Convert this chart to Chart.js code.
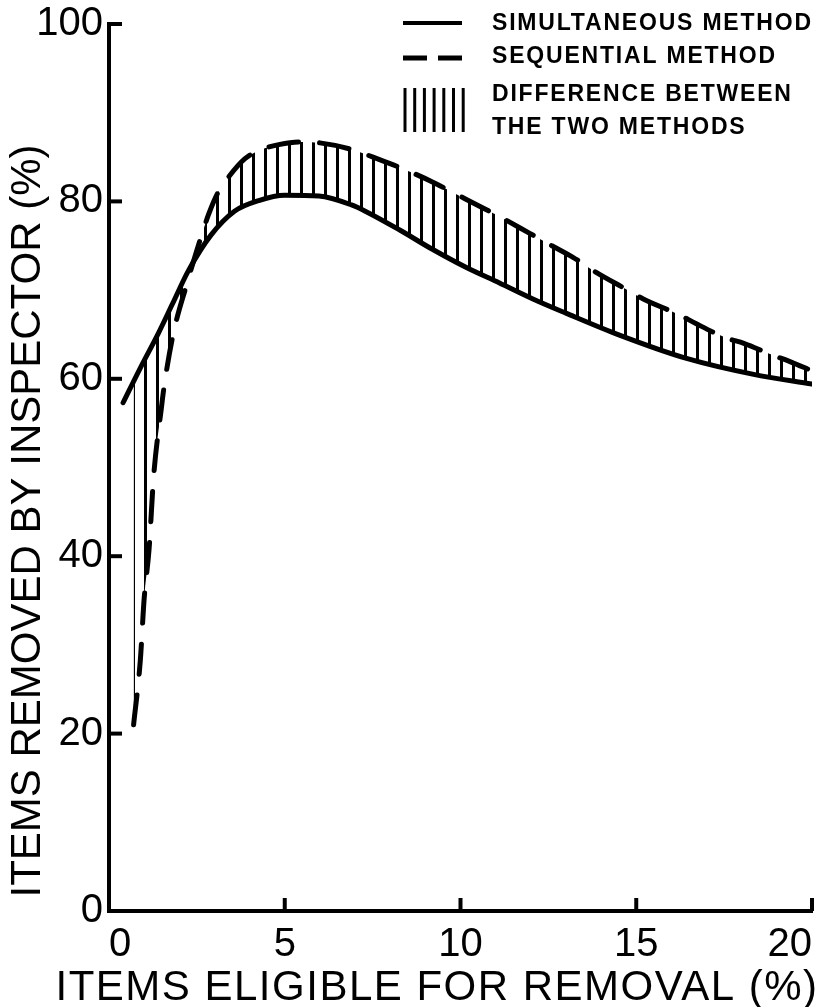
<!DOCTYPE html>
<html>
<head>
<meta charset="utf-8">
<script src="https://cdn.jsdelivr.net/npm/chart.js@4/dist/chart.umd.min.js"></script>
<style>
  html, body { margin: 0; padding: 0; background: #fff; }
  canvas { display: block; }
</style>
</head>
<body>
<canvas id="inspectChart" width="826" height="1007"></canvas>
<script>
"use strict";

// simultaneous method (solid curve)
let simX = [0.4, 0.9, 1.4, 1.8, 2.26, 2.9, 3.57, 4.26, 5.0, 5.97, 6.9, 7.29, 8.26, 9.2, 10.14, 11.11, 12.06, 13.0, 14.54, 16.43, 18.34, 20];
let simY = [57.3, 61.3, 65.1, 68.4, 72.2, 76.2, 78.9, 80.1, 80.7, 80.6, 79.6, 78.9, 76.8, 74.6, 72.6, 70.8, 69.0, 67.4, 64.9, 62.3, 60.5, 59.4];

// sequential method (dashed curve)
let seqX = [0.7, 0.89, 1.0, 1.14, 1.27, 1.49, 1.57, 1.83, 2.23, 2.5, 2.83, 3.1, 3.43, 3.86, 4.3, 4.83, 5.4, 6.0, 6.86, 7.77, 8.29, 9.2, 9.69, 10.57, 11.06, 11.97, 12.6, 13.2, 13.86, 14.71, 15.2, 16.23, 16.71, 17.57, 18.06, 18.86, 19.34, 20];
let seqY = [21.0, 28.2, 35.2, 40.8, 49.0, 56.7, 59.2, 65.1, 70.9, 74.5, 78.5, 81.0, 82.9, 84.8, 85.8, 86.4, 86.7, 86.6, 85.9, 84.6, 83.8, 82.2, 81.2, 79.4, 78.4, 76.4, 75.0, 73.7, 72.0, 70.1, 69.0, 67.2, 66.2, 64.6, 64.0, 62.7, 62.0, 60.9];

let xTicks = [0, 5, 10, 15, 20];
let yTicks = [0, 20, 40, 60, 80, 100];
let seriesNames = ['SIMULTANEOUS METHOD', 'SEQUENTIAL METHOD'];
let diffLabel = ['DIFFERENCE BETWEEN', 'THE TWO METHODS'];
let xTitle = 'ITEMS ELIGIBLE FOR REMOVAL (%)';
let yTitle = 'ITEMS REMOVED BY INSPECTOR (%)';

let canvas = document.getElementById('inspectChart');
let ctx = canvas.getContext('2d');

function toPoints(xs, ys) {
    let pts = [];
    for (let i = 0; i < xs.length; i++) {
        pts.push({ x: xs[i], y: ys[i] });
    }
    return pts;
}

// vertical line hatching for the gap between the curves
function makeHatch() {
    let tile = document.createElement('canvas');
    tile.width = 12;
    tile.height = 4;
    let tctx = tile.getContext('2d');
    tctx.fillStyle = '#000';
    tctx.fillRect(0, 0, 3, 4);
    return ctx.createPattern(tile, 'repeat');
}

const fontFamily = "'Liberation Sans', Arial, sans-serif";
const titleFont = "42px " + fontFamily;
const legendFont = "bold 23px " + fontFamily;

// inward tick marks, axis titles and the key in the top right
const decorations = {
    id: 'decorations',
    afterDraw(chart) {
        let c = chart.ctx;
        let xs = chart.scales.x;
        let ys = chart.scales.y;
        let area = chart.chartArea;
        c.save();
        c.strokeStyle = '#000';
        c.fillStyle = '#000';
        c.lineWidth = 4;
        c.lineCap = 'butt';
        for (let v of yTicks) {
            if (v === 0) continue;
            let py = ys.getPixelForValue(v);
            c.beginPath();
            c.moveTo(area.left, py);
            c.lineTo(area.left + 13, py);
            c.stroke();
        }
        for (let v of xTicks) {
            if (v === 0) continue;
            let px = xs.getPixelForValue(v);
            c.beginPath();
            c.moveTo(px, area.bottom);
            c.lineTo(px, area.bottom - 13);
            c.stroke();
        }

        c.font = titleFont;
        c.textAlign = 'center';
        c.textBaseline = 'middle';
        c.letterSpacing = '1.5px';
        c.fillText(xTitle, 437, 988);
        c.save();
        c.translate(28, 521);
        c.rotate(-Math.PI / 2);
        c.letterSpacing = '0px';
        c.fillText(yTitle, 0, 0);
        c.restore();

        // key
        c.lineWidth = 4;
        c.beginPath();
        c.moveTo(403, 23);
        c.lineTo(462, 23);
        c.stroke();
        c.lineWidth = 5;
        c.beginPath();
        c.moveTo(403, 58);
        c.lineTo(427, 58);
        c.moveTo(438, 58);
        c.lineTo(462, 58);
        c.stroke();
        c.lineWidth = 3;
        for (let i = 0; i < 7; i++) {
            let hx = 405 + i * 9.7;
            c.beginPath();
            c.moveTo(hx, 88);
            c.lineTo(hx, 132);
            c.stroke();
        }
        c.font = legendFont;
        c.textAlign = 'left';
        c.textBaseline = 'middle';
        c.letterSpacing = '1.8px';
        c.fillText(seriesNames[0], 492, 24);
        c.fillText(seriesNames[1], 492, 57);
        c.fillText(diffLabel[0], 492, 95);
        c.fillText(diffLabel[1], 492, 128);
        c.restore();
    }
};

const data = {
    datasets: [{
        label: seriesNames[0],
        data: toPoints(simX, simY),
        borderColor: '#000',
        borderWidth: 5,
        pointRadius: 0,
        cubicInterpolationMode: 'monotone',
        borderCapStyle: 'round',
        borderJoinStyle: 'round',
        fill: false
    }, {
        label: seriesNames[1],
        data: toPoints(seqX, seqY),
        borderColor: '#000',
        borderWidth: 5,
        borderDash: [30, 21],
        borderCapStyle: 'round',
        borderJoinStyle: 'round',
        pointRadius: 0,
        cubicInterpolationMode: 'monotone',
        backgroundColor: makeHatch(),
        fill: 0
    }]
};

const config = {
    type: 'line',
    data: data,
    plugins: [decorations],
    options: {
        responsive: false,
        animation: false,
        devicePixelRatio: 1,
        layout: { padding: { top: 24, right: 14, left: 0, bottom: 0 } },
        plugins: {
            legend: { display: false },
            tooltip: { enabled: false }
        },
        scales: {
            x: {
                type: 'linear',
                min: 0,
                max: 20,
                grid: { display: false, drawTicks: false },
                border: { display: true, color: '#000', width: 4 },
                ticks: {
                    stepSize: 5,
                    color: '#000',
                    padding: 10,
                    align: 'inner',
                    font: { family: fontFamily, size: 40 }
                },
                afterFit(scale) {
                    scale.height = 96;
                    scale.paddingLeft = 0;
                    scale.paddingRight = 0;
                }
            },
            y: {
                min: 0,
                max: 100,
                grid: { display: false, drawTicks: false },
                border: { display: true, color: '#000', width: 4 },
                ticks: {
                    stepSize: 20,
                    color: '#000',
                    padding: 6,
                    font: { family: fontFamily, size: 40 }
                },
                afterFit(scale) {
                    scale.width = 109;
                    scale.paddingTop = 0;
                    scale.paddingBottom = 0;
                }
            }
        }
    }
};

new Chart(ctx, config);
</script>
</body>
</html>
